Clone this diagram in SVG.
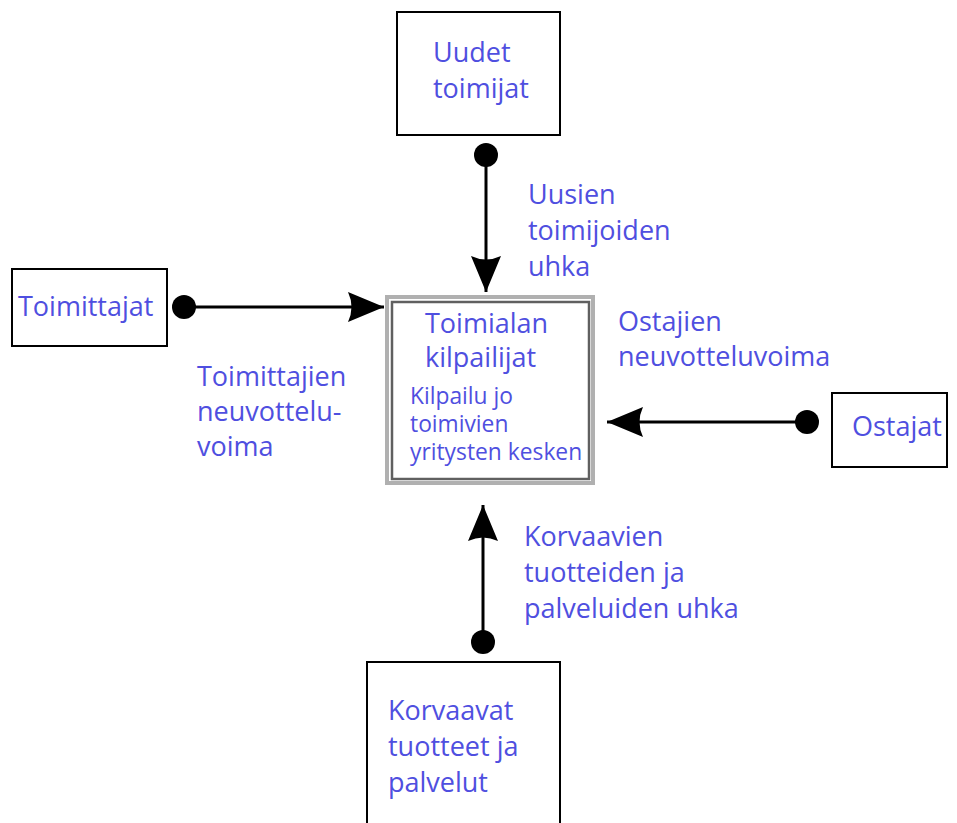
<svg xmlns="http://www.w3.org/2000/svg" width="957" height="823" viewBox="0 0 957 823">
<style>
.box{fill:#fff;stroke:#000;stroke-width:2}
.t{font-family:"Open Sans","Liberation Sans",sans-serif;font-size:27px;fill:#4f4fe0}
.s{font-size:22.8px}
.c{stroke:#000;stroke-width:3;fill:none}
</style>
<defs>
<marker id="arr" markerUnits="userSpaceOnUse" markerWidth="40" markerHeight="34" viewBox="-38 -17 40 34" refX="0" refY="0" orient="auto">
<path d="M0,0 L-36,-15 Q-29,0 -36,15 Z" fill="#000"/>
</marker>
<marker id="dot" markerUnits="userSpaceOnUse" markerWidth="28" markerHeight="28" viewBox="-14 -14 28 28" refX="0" refY="0" orient="auto">
<circle cx="0" cy="0" r="12" fill="#000"/>
</marker>
</defs>
<rect width="957" height="823" fill="#fff"/>
<g id="connectors">
<line class="c" x1="486" y1="155" x2="486" y2="292" marker-start="url(#dot)" marker-end="url(#arr)"/>
<line class="c" x1="184" y1="307" x2="384" y2="307" marker-start="url(#dot)" marker-end="url(#arr)"/>
<line class="c" x1="807" y1="422" x2="607" y2="422" marker-start="url(#dot)" marker-end="url(#arr)"/>
<line class="c" x1="483" y1="642" x2="483" y2="505" marker-start="url(#dot)" marker-end="url(#arr)"/>
</g>
<g id="uudet">
<rect class="box" x="397" y="12" width="163" height="123"/>
<text class="t" x="433" y="62">Uudet</text>
<text class="t" x="433" y="98">toimijat</text>
</g>
<g id="toimittajat">
<rect class="box" x="12" y="269" width="155" height="77"/>
<text class="t" x="18" y="316">Toimittajat</text>
</g>
<g id="kilpailijat">
<rect x="387" y="297" width="206" height="186" fill="#fff" stroke="#b0b0b0" stroke-width="4"/>
<rect x="392" y="302" width="197" height="177" fill="none" stroke="#606060" stroke-width="2.5"/>
<text class="t" x="425" y="333">Toimialan</text>
<text class="t" x="425" y="367">kilpailijat</text>
<text class="t s" x="410" y="404">Kilpailu jo</text>
<text class="t s" x="410" y="432">toimivien</text>
<text class="t s" x="410" y="460">yritysten kesken</text>
</g>
<g id="ostajat">
<rect class="box" x="832" y="393" width="115" height="74"/>
<text class="t" x="852" y="436">Ostajat</text>
</g>
<g id="korvaavat">
<rect class="box" x="367" y="662" width="193" height="170"/>
<text class="t" x="388" y="720">Korvaavat</text>
<text class="t" x="388" y="756">tuotteet ja</text>
<text class="t" x="388" y="792">palvelut</text>
</g>
<g id="labels">
<text class="t" x="528" y="204">Uusien</text>
<text class="t" x="528" y="240">toimijoiden</text>
<text class="t" x="528" y="276">uhka</text>
<text class="t" x="197" y="386">Toimittajien</text>
<text class="t" x="197" y="421">neuvottelu-</text>
<text class="t" x="197" y="456">voima</text>
<text class="t" x="618" y="331">Ostajien</text>
<text class="t" x="618" y="366">neuvotteluvoima</text>
<text class="t" x="524" y="546">Korvaavien</text>
<text class="t" x="524" y="582">tuotteiden ja</text>
<text class="t" x="524" y="618">palveluiden uhka</text>
</g>
</svg>
